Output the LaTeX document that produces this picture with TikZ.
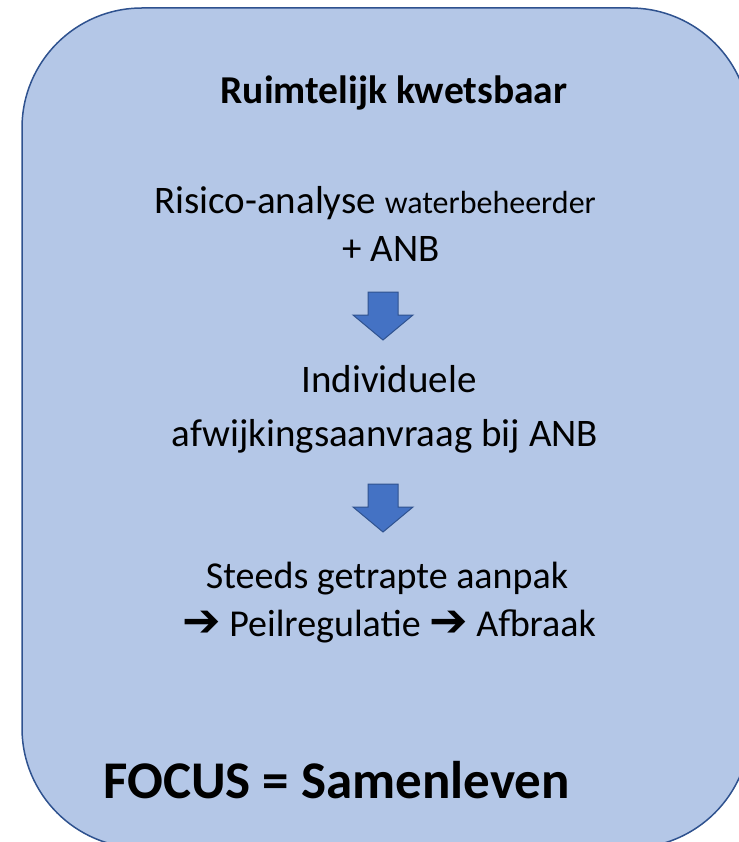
\documentclass[tikz,border=0pt]{standalone}
\usepackage{fontspec}
\setmainfont{Carlito}
\newfontfamily\symfont{DejaVu Sans}
\usepackage{tikz}
\definecolor{boxfill}{HTML}{B4C7E7}
\definecolor{boxline}{HTML}{2F528F}
\definecolor{arrowfill}{HTML}{4472C4}
\def\fs#1{\fontsize{#1}{#1}\selectfont}
\def\downblock(#1,#2){\draw[line width=1pt, draw=boxline, fill=arrowfill] (#1-15, #2) -- (#1+15, #2) -- (#1+15, #2+23) -- (#1+30, #2+23) -- (#1, #2+48) -- (#1-30, #2+23) -- (#1-15, #2+23) -- cycle;}

\begin{document}
\begin{tikzpicture}[x=1pt, y=-1pt]
			%%%%% START %%%%%
			
			\useasboundingbox (0, 0) rectangle (738, 842);
			
			\draw[rounded corners=120pt, line width=1.5pt, draw=boxline, fill=boxfill] (22, 8) rectangle (750, 848);
			
			\node[anchor=base] (title) at (394, 104) {\fs{39.5}\bfseries Ruimtelijk kwetsbaar};
			
			\node[anchor=base] (risk1) at (375, 214) {\fs{39}Risico-analyse \fs{32}waterbeheerder};
			\node[anchor=base] (risk2) at (391, 261) {\fs{39}+ ANB};
			
			\downblock(383, 292);
			
			\node[anchor=base] (indiv1) at (389, 392) {\fs{39}Individuele};
			\node[anchor=base] (indiv2) at (385, 446) {\fs{39}afwijkingsaanvraag bij ANB};
			
			\downblock(383, 484);
			
			\node[anchor=base] (steps1) at (387, 588) {\fs{38}Steeds getrapte aanpak};
			\node[anchor=base] (steps2) at (389, 636) {\fs{38}{\symfont\bfseries\fs{46}➔} Peilregulatie {\symfont\bfseries\fs{46}➔} Afbraak};
			
			\node[anchor=base west] (focus) at (100, 798) {\fs{53}\bfseries FOCUS = Samenleven};
			
			%%%%% END %%%%%
		\end{tikzpicture}
\end{document}
